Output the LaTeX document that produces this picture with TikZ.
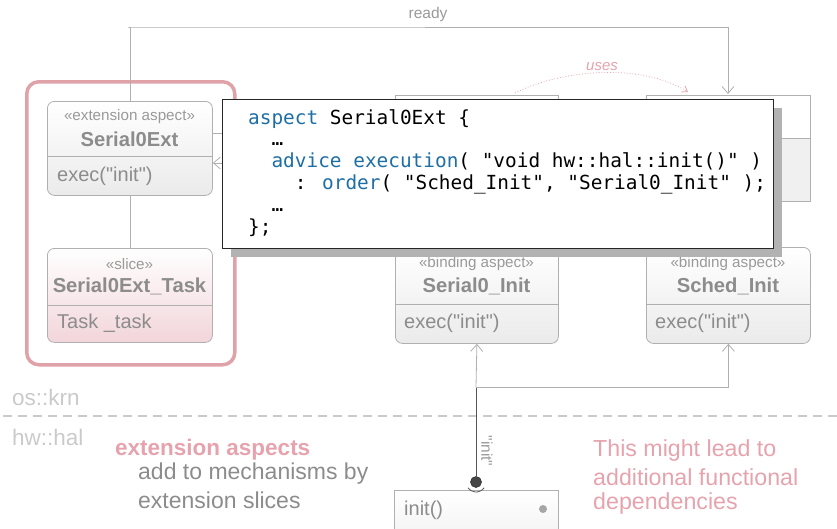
\documentclass[tikz,border=0pt]{standalone}
\usepackage{fontspec}
\setmainfont{Liberation Sans}[Ligatures=TeXOff]
\newfontfamily\codefont{DejaVu Sans Mono}[Ligatures=TeXOff]
\usetikzlibrary{arrows.meta,shadows}
\newcommand\sq{\symbol{34}}
\definecolor{boxline}{HTML}{B0B0B0}
\definecolor{boxtext}{HTML}{8C8C8C}
\definecolor{stereotext}{HTML}{9A9A9A}
\definecolor{pinkframe}{HTML}{E0A2A9}
\definecolor{pinktext}{HTML}{E6A3AD}
\definecolor{pinkfill}{HTML}{F2D5DA}
\definecolor{kw}{HTML}{1E6FA6}
\definecolor{layer}{HTML}{CACACA}
\definecolor{darkconn}{HTML}{555555}
\begin{document}
\begin{tikzpicture}[x=1pt,y=-1pt,
  umlbox/.style={draw=boxline, line width=0.8pt, rounded corners=7pt, top color=white, bottom color=black!8, anchor=north west, inner sep=0pt},
  hiddenbox/.style={draw=boxline, line width=0.8pt, fill=white, anchor=north west, inner sep=0pt},
  stereo/.style={text=stereotext, font=\fontsize{15.2}{17}\selectfont, inner sep=0pt},
  bname/.style={text=boxtext, font=\fontsize{20.2}{23}\selectfont\bfseries, inner sep=0pt},
  member/.style={text=boxtext, font=\fontsize{20}{23}\selectfont, anchor=west, inner sep=0pt},
  conn/.style={draw=boxline, line width=0.8pt},
  opentip/.style={-{Straight Barb[length=7pt,width=12pt]}},
  layerlbl/.style={text=layer, font=\fontsize{22.5}{26}\selectfont, anchor=west, inner sep=0pt},
  graytext/.style={text=boxtext, font=\fontsize{23}{27}\selectfont, anchor=west, inner sep=0pt},
  pinkline/.style={text=pinktext, font=\fontsize{23.2}{27}\selectfont, anchor=west, inner sep=0pt},
  codebox/.style={draw=black!85, line width=1.3pt, fill=white, anchor=north west, inner sep=0pt,
     drop shadow={shadow xshift=8pt, shadow yshift=-8pt, fill=black!30, opacity=1}},
]
\useasboundingbox (0,0) rectangle (837,528);

% ---- ready connector
\node[text=stereotext, font=\fontsize{15.5}{18}\selectfont, inner sep=0pt] (readylbl) at (428,14) {ready};
\coordinate (rA) at (128,27);
\coordinate (rB) at (728,27);

% ---- pink frame
\node[draw=pinkframe, line width=3.5pt, rounded corners=12pt, minimum width=208pt, minimum height=283pt, anchor=north west, inner sep=0pt] (frame) at (25,80) {};

% ---- Serial0Ext box
\node[umlbox, minimum width=165pt, minimum height=94pt] (s0e) at (47,101) {};
\draw[conn] (s0e.west |- 0,156) -- (s0e.east |- 0,156);
\node[stereo] (s0eSt) at (129.5,117) {«extension aspect»};
\node[bname] (s0eN) at (129.5,139) {Serial0Ext};
\node[member] (s0eM) at (57,176) {exec(\sq init\sq)};

% ---- slice box
\node[umlbox, top color=white, bottom color=pinkfill, minimum width=165pt, minimum height=94pt] (slice) at (47,248) {};
\draw[conn] (slice.west |- 0,305) -- (slice.east |- 0,305);
\node[stereo] (sliceSt) at (129.5,264) {«slice»};
\node[bname] (sliceN) at (129.5,286) {Serial0Ext\_Task};
\node[member] (sliceM) at (57,323) {Task \_task};
\draw[conn] (s0e.south) -- (slice.north);

% ready line
\draw[conn, opentip] (s0e.north) |- (rA) -- (rB) -- (728,94);

% ---- hidden boxes behind the code
\node[hiddenbox, minimum width=163pt, minimum height=106pt] (hidL) at (395,95) {};
\node[hiddenbox, minimum width=164pt, minimum height=106pt] (hidR) at (646,95) {};
\fill[black!6] (646.4,138) rectangle (809.6,200.6);
\draw[conn] (646,138) -- (810,138);

% uses
\draw[pinktext, line width=0.8pt, dotted, -{Straight Barb[length=5pt,width=7pt]}] (515,93) .. controls (560,70) and (640,62) .. (688,92);
\node[text=pinktext, font=\fontsize{15}{17}\selectfont\itshape, fill=white, inner sep=1pt] (uses) at (602,67) {uses};

% connectors from Serial0Ext to the right
\coordinate (s0eR1) at (224,133);
\coordinate (s0eR2) at (224,163);
\draw[conn] (s0e.east |- s0eR1) -- (s0eR1);
\draw[conn, opentip] (s0eR2) -- (s0e.east |- s0eR2);

% ---- binding aspect boxes
\node[umlbox, minimum width=163pt, minimum height=96pt] (ser) at (395,247) {};
\draw[conn] (ser.west |- 0,304) -- (ser.east |- 0,304);
\node[stereo] (serSt) at (476.5,264) {«binding aspect»};
\node[bname] (serN) at (476.5,286) {Serial0\_Init};
\node[member] (serM) at (404,323) {exec(\sq init\sq)};

\node[umlbox, minimum width=164pt, minimum height=96pt] (sch) at (646,247) {};
\draw[conn] (sch.west |- 0,304) -- (sch.east |- 0,304);
\node[stereo] (schSt) at (728,264) {«binding aspect»};
\node[bname] (schN) at (728,286) {Sched\_Init};
\node[member] (schM) at (655,323) {exec(\sq init\sq)};

% ---- code box
\node[codebox, minimum width=551pt, minimum height=149pt] (code) at (222,99) {};
\node[anchor=north west, inner sep=0pt, align=left, font=\codefont\fontsize{19.4}{21.8}\selectfont] (codetxt) at (248,109) {%
\textcolor{kw}{aspect} Serial0Ext \{\\
\phantom{aa}…\\
\phantom{aa}\textcolor{kw}{advice} \textcolor{kw}{execution}( \sq void hw::hal::init()\sq{} )\\
\phantom{aaaa}: \textcolor{kw}{order}( \sq Sched\_Init\sq, \sq Serial0\_Init\sq{} );\\
\phantom{aa}…\\
\};};

% ---- layer separator
\draw[layer, line width=2.5pt, dash pattern=on 9pt off 6pt] (3,416) -- (837,416);
\node[layerlbl] (oskrn) at (12,397) {os::krn};
\node[layerlbl] (hwhal) at (12,437) {hw::hal};

% ---- bottom box
\node[draw=boxline, line width=0.8pt, top color=white, bottom color=black!5, anchor=north west, minimum width=164pt, minimum height=50pt, inner sep=0pt] (initbox) at (394,490) {};
\node[member] (initM) at (404,510) {init()};
\fill[black!35] (543,509) circle (4);

% ---- ball and socket, required connectors
\coordinate (jn) at (476,387);
\node[circle, fill=black!72, draw=black!80, line width=0.6pt, minimum size=11pt, inner sep=0pt] (ball) at (476,482) {};
\draw[darkconn, line width=0.9pt] (ball.north) -- (jn);
\draw[darkconn, line width=0.8pt] (476,482) ++(35:10) arc[start angle=35, end angle=145, radius=10];
\draw[conn, opentip] (jn) -- (ser.south);
\draw[conn, opentip] (jn) -| (sch.south);
\node[rotate=-90, text=stereotext, font=\fontsize{15.5}{18}\selectfont, inner sep=0pt] (initlbl) at (487,451) {\sq init\sq};

% ---- annotations
\node[text=pinktext, font=\fontsize{22.5}{26}\selectfont\bfseries, anchor=west, inner sep=0pt] (extA) at (115,450) {extension aspects};
\node[graytext] (extB) at (138,474) {add to mechanisms by};
\node[graytext] (extC) at (138,500) {extension slices};

\node[pinkline] (mightA) at (593,450) {This might lead to};
\node[pinkline] (mightB) at (593,477) {additional functional};
\node[pinkline] (mightC) at (593,503) {dependencies};
\end{tikzpicture}
\end{document}
